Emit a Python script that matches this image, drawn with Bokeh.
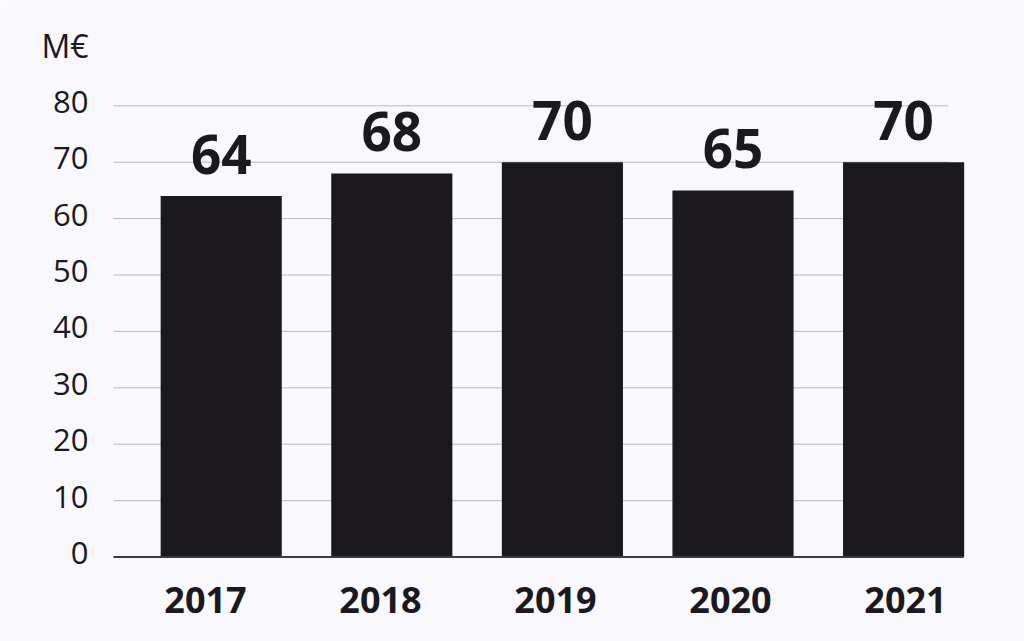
from bokeh.plotting import figure
from bokeh.models import Range1d, ColumnDataSource
from bokeh.core.properties import value
from bokeh.embed import file_html
from bokeh.resources import INLINE

years = ["2017", "2018", "2019", "2020", "2021"]
values = [64, 68, 70, 65, 70]
y_ticks = [0, 10, 20, 30, 40, 50, 60, 70, 80]
unit_label = "M€"

INK = "#1b191e"
BG = "#f8f8fd"
FONT = "Open Sans"

idx = list(range(len(years)))

p = figure(width=1024, height=641, output_backend="svg", toolbar_location=None,
           x_range=Range1d(-1.2937, 4.7087), y_range=Range1d(-14.98, 98.67),
           min_border=0)
p.extra_x_ranges = {"lab": Range1d(-1.1714, 4.68)}
p.axis.visible = False
p.grid.visible = False
p.outline_line_color = None
p.background_fill_color = BG
p.border_fill_color = BG

# grid lines
grid_ticks = [t for t in y_ticks if t > 0]
p.segment(x0=[-0.6313] * len(grid_ticks), x1=[4.2632] * len(grid_ticks),
          y0=grid_ticks, y1=grid_ticks, line_color="#b9b9c0", line_width=1)

# bars
src = ColumnDataSource(dict(x=idx, top=values, lab=[str(v) for v in values], year=years))
p.vbar(x="x", top="top", bottom=0, width=0.71, source=src,
       fill_color=INK, line_color=None)

# baseline
p.segment(x0=[-0.6313], x1=[4.3511], y0=[0], y1=[0], line_color="#3a3a40", line_width=2)

# value labels
p.text(x="x", y="top", text="lab", source=src, text_font=value(FONT),
       text_font_style="bold", text_font_size="53px", text_color=INK,
       text_align="center", text_baseline="alphabetic", y_offset=-42)

# y tick labels
p.text(x=[-0.7778] * len(y_ticks), y=y_ticks, text=[str(t) for t in y_ticks],
       text_font=value(FONT), text_font_size="31px", text_color=INK,
       text_align="right", text_baseline="middle", y_offset=-4)

# unit label
p.text(x=[-0.7778], y=[90.7], text=[unit_label], text_font=value(FONT),
       text_font_size="32px", text_color=INK, text_align="right", text_baseline="middle")

# x labels
p.text(x=idx, y=[-7.71] * len(idx), text=years, x_range_name="lab",
       text_font=value(FONT), text_font_style="bold", text_font_size="36px",
       text_color=INK, text_align="center", text_baseline="middle")

open("out.html", "w").write(file_html(p, INLINE))
